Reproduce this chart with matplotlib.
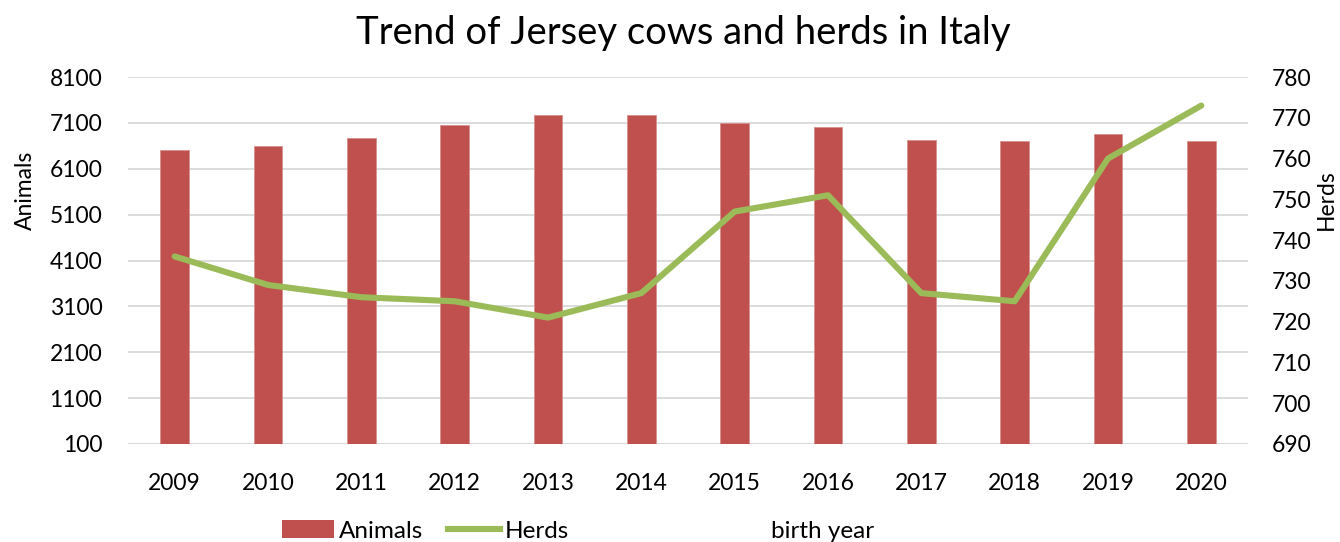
import matplotlib
matplotlib.use("Agg")
import matplotlib.pyplot as plt
from matplotlib.patches import Patch
from matplotlib.lines import Line2D

# values
years = ["2009", "2010", "2011", "2012", "2013", "2014",
         "2015", "2016", "2017", "2018", "2019", "2020"]
animals = [6500, 6590, 6770, 7060, 7275, 7275, 7100, 7005, 6730, 6695, 6865, 6700]
herds = [736, 729, 726, 725, 721, 727, 747, 751, 727, 725, 760, 773]

left_ticks = list(range(100, 8101, 1000))
right_ticks = list(range(690, 781, 10))

bar_color = "#c0504d"
line_color = "#9bbb59"
grid_color = "#d9d9d9"

plt.rcParams["font.family"] = ["Lato", "DejaVu Sans"]
fs = 16.5
leg_fs = 17.5

fig = plt.figure(figsize=(13.4, 5.42), dpi=100)
ax = fig.add_axes([128 / 1340, 1 - 444 / 542, (1248 - 128) / 1340, (444 - 77) / 542])
x = list(range(len(years)))

ax.bar(x, animals, width=0.31, color=bar_color, edgecolor="#d9908e", linewidth=0.6, zorder=2)
ax.set_xlim(-0.5, len(years) - 0.5)
ax.set_ylim(100, 8100)
ax.set_yticks(left_ticks)
ax.set_xticks(x)
ax.set_xticklabels(years)
ax.grid(axis="y", color=grid_color, linewidth=1.3, zorder=0)
ax.set_axisbelow(True)
ax.tick_params(axis="both", length=0, labelsize=fs)
ax.tick_params(axis="y", pad=18.5)
ax.tick_params(axis="x", pad=21)
for s in ax.spines.values():
    s.set_visible(False)

ax2 = ax.twinx()
ax2.plot(x, herds, color=line_color, linewidth=4.4, solid_capstyle="round",
         solid_joinstyle="round", zorder=3)
ax2.set_ylim(690, 780)
ax2.set_yticks(right_ticks)
ax2.tick_params(axis="y", length=0, labelsize=fs, pad=17)
for s in ax2.spines.values():
    s.set_visible(False)

fig.text(683 / 1340, 1 - 33 / 542, "Trend of Jersey cows and herds in Italy",
         ha="center", va="center", fontsize=27.5)
fig.text(25 / 1340, 1 - 190 / 542, "Animals", rotation=90,
         ha="center", va="center", fontsize=fs)
fig.text(1326 / 1340, 1 - 200 / 542, "Herds", rotation=90,
         ha="center", va="center", fontsize=fs)
fig.text(823 / 1340, 1 - 538 / 542, "birth year", ha="center", va="baseline", fontsize=leg_fs)

handles = [Patch(facecolor=bar_color, label="Animals"),
           Line2D([0], [0], color=line_color, linewidth=4.4, label="Herds")]
fig.legend(handles=handles, loc="center left", bbox_to_anchor=(282 / 1340, 1 - 531 / 542),
           ncol=2, frameon=False, fontsize=leg_fs, handlelength=2.15, handletextpad=0.2,
           columnspacing=1.0, borderpad=0, borderaxespad=0)

fig.savefig("out.png", dpi=100)
